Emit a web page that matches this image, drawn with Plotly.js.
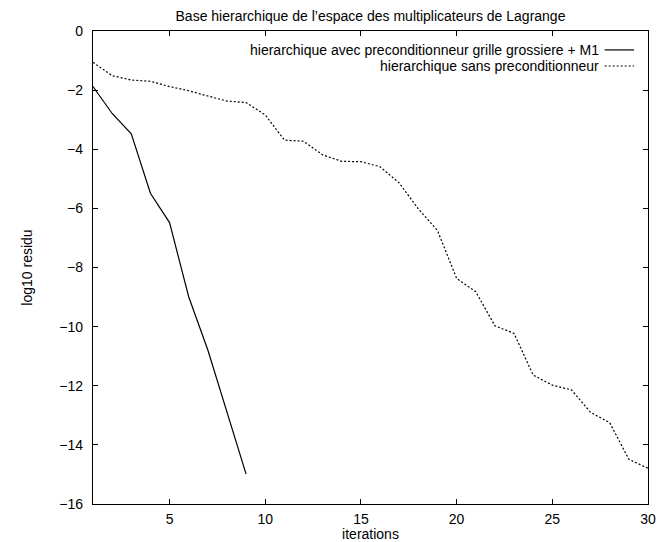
<!DOCTYPE html>
<html>
<head>
<meta charset="utf-8">
<script src="https://cdn.plot.ly/plotly-3.0.1.min.js"></script>
<style>html,body{margin:0;padding:0;background:#fff;}#chart{width:657px;height:542px;}</style>
</head>
<body>
<div id="chart"></div>
<script>
const iterationsPrec = [1, 2, 3, 4, 5, 6, 7, 8, 9];
const residuPrec = [-1.88, -2.79, -3.48, -5.49, -6.48, -8.99, -10.79, -12.9, -14.99];
const iterationsSans = [1,2,3,4,5,6,7,8,9,10,11,12,13,14,15,16,17,18,19,20,21,22,23,24,25,26,27,28,29,30];
const residuSans = [-1.06, -1.51, -1.66, -1.70, -1.88, -2.02, -2.20, -2.37, -2.42, -2.84,
  -3.69, -3.73, -4.19, -4.41, -4.42, -4.59, -5.14, -6.02, -6.75, -8.37,
  -8.82, -9.97, -10.23, -11.64, -11.98, -12.14, -12.90, -13.25, -14.49, -14.79];
const seriesNames = ["hierarchique avec preconditionneur grille grossiere + M1", "hierarchique sans preconditionneur"];
const chartTitle = "Base hierarchique de l\u2019espace des multiplicateurs de Lagrange";
const xLabel = "iterations";
const yLabel = "log10 residu";

const font = {family: "Liberation Sans, Arial, sans-serif", size: 14, color: "#000"};

const traces = [
  {x: iterationsPrec, y: residuPrec, mode: "lines", name: seriesNames[0],
   line: {color: "#000", width: 1.2}},
  {x: iterationsSans, y: residuSans, mode: "lines", name: seriesNames[1],
   line: {color: "#000", width: 1.2, dash: "2px,2px"}}
];

const axisCommon = {
  showline: true, linecolor: "#000", linewidth: 1.2, mirror: "ticks",
  ticks: "inside", ticklen: 5, tickcolor: "#000", tickwidth: 1,
  showgrid: false, zeroline: false, tickfont: font
};

const layout = {
  width: 657, height: 542,
  margin: {l: 93, r: 9, t: 31, b: 38},
  paper_bgcolor: "#fff", plot_bgcolor: "#fff",
  showlegend: false,
  font: font,
  title: {text: chartTitle, font: font, xref: "paper", x: 0.5, xanchor: "center", y: 0.970, yanchor: "middle"},
  xaxis: Object.assign({}, axisCommon, {range: [1, 30], tick0: 0, dtick: 5, ticklabelstandoff: 2,
    title: {text: xLabel, font: font, standoff: 0}}),
  yaxis: Object.assign({}, axisCommon, {range: [-16, 0], tick0: 0, dtick: 2, ticklabelstandoff: 6,
    title: {text: yLabel, font: font, standoff: 23}}),
  annotations: [
    {xref: "paper", yref: "paper", x: 0.915, y: 0.960, xanchor: "right", yanchor: "middle",
     text: seriesNames[0], showarrow: false, font: font},
    {xref: "paper", yref: "paper", x: 0.915, y: 0.926, xanchor: "right", yanchor: "middle",
     text: seriesNames[1], showarrow: false, font: font}
  ],
  shapes: [
    {type: "line", xref: "paper", yref: "paper", x0: 0.922, x1: 0.975, y0: 0.960, y1: 0.960,
     line: {color: "#000", width: 1.2}},
    {type: "line", xref: "paper", yref: "paper", x0: 0.922, x1: 0.975, y0: 0.926, y1: 0.926,
     line: {color: "#000", width: 1.2, dash: "2px,2px"}}
  ]
};

Plotly.newPlot("chart", traces, layout, {displayModeBar: false, staticPlot: true});
</script>
</body>
</html>
